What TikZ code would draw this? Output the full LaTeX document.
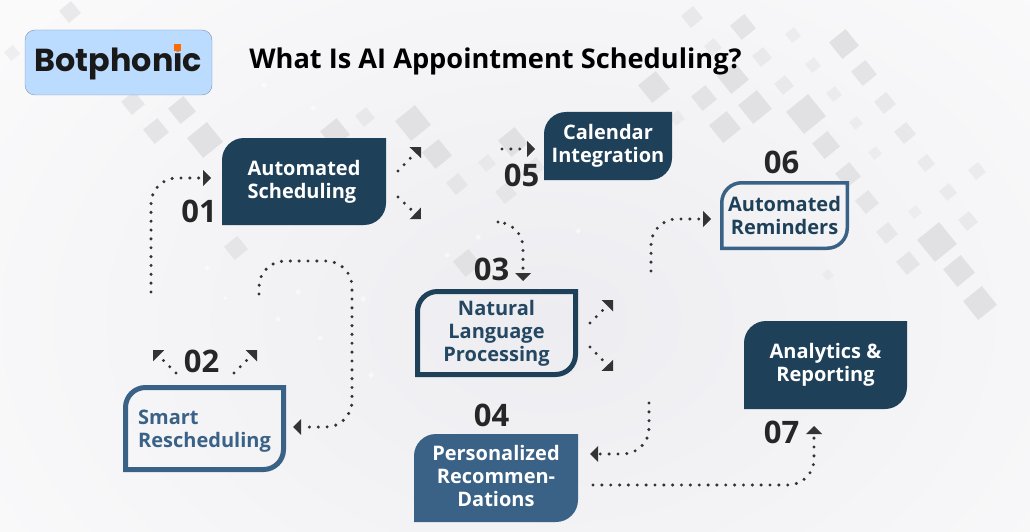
\documentclass[tikz,border=0pt]{standalone}
\usepackage{fontspec}
\setmainfont{Open Sans}
\newfontfamily\logofont{Poppins}
\usetikzlibrary{arrows.meta}
\definecolor{oscuro}{HTML}{1E4059}
\definecolor{medio}{HTML}{3A6186}
\definecolor{punto}{HTML}{333333}
\definecolor{cifra}{HTML}{262626}
\definecolor{rombo}{HTML}{DEDEE0}
\definecolor{fondo}{HTML}{EDEDF1}
\definecolor{claro}{HTML}{FAFAFB}
\definecolor{cielo}{HTML}{BBDBFF}
\definecolor{filete}{HTML}{7F93AE}
\definecolor{naranja}{HTML}{FF6A00}
\newcommand{\forma}[2]{
    ([xshift=#1,yshift=#1]path picture bounding box.south west)
    [rounded corners=#2] -- ([xshift=#1,yshift=-#1]path picture bounding box.north west)
    [sharp corners] -- ([xshift=-#1,yshift=-#1]path picture bounding box.north east)
    [rounded corners=#2] -- ([xshift=-#1,yshift=#1]path picture bounding box.south east)
    [sharp corners] -- ([xshift=#1,yshift=#1]path picture bounding box.south west) -- cycle}
\tikzset{
    caja/.style={rectangle, inner sep=0pt, align=center, font=\bfseries\fontsize{20}{23}\selectfont},
    relleno/.style={caja, text=white, path picture={\fill[#1] \forma{0pt}{22pt};}},
    borde/.style 2 args={caja, path picture={\draw[#1, line width=#2] \forma{#2/2}{20pt};}},
    numero/.style={font=\bfseries\fontsize{31}{31}\selectfont, text=cifra, inner sep=0pt},
    flecha/.style={line width=3.4pt, line cap=round, dash pattern=on 0pt off 8.85pt, draw=punto,
        -{Triangle[length=8pt, width=16pt, fill=punto, line width=0pt]}},
    curva/.style={flecha, rounded corners=26pt},
    conexion/.style={coordinate}}

\begin{document}
\begin{tikzpicture}[x=1pt, y=-1pt]
    \useasboundingbox (0,0) rectangle (1030,532);
    \clip (0,0) rectangle (1030,532);
    \shade[inner color=fondo, outer color=claro] (-130,-160) rectangle (1230,800);

    \foreach \x/\y/\d in {70/12/11, 12/53/8, 133/103/12, 182/110/14, 156/131/13, 205/140/18,
        413/123/18, 437/154/15, 335/133/15, 236/248/12, 365/117/10, 457/184/11, 513/142/15,
        506/193/11, 487/163/9, 467/263/14, 535/167/10, 692/17/11, 743/27/13, 713/47/9,
        762/57/10, 793/35/8, 844/44/15, 813/65/8, 864/73/13, 654/87/16, 733/78/16, 704/98/13,
        755/107/17, 725/127/16, 806/114/20, 784/85/10, 834/94/8, 885/103/11, 856/123/7,
        905/133/11, 826/145/14, 875/153/7, 926/163/9, 848/175/13, 977/171/9, 948/192/9,
        867/202/12, 915/212/7, 968/221/10, 887/233/11, 937/242/20, 908/263/12, 959/271/16,
        980/303/17, 828/275/6, 677/118/8}{
        \pgfmathsetmacro{\op}{min(0.85,0.022*\d*\d/7+0.2)}
        \fill[rombo, fill opacity=\op, shift={(\x,\y)}, rotate=-6] (-\d,0) -- (0,-\d) -- (\d,0) -- (0,\d) -- cycle;}
    \foreach \x/\y/\d in {207/268/3, 225/298/2, 298/292/3, 278/319/3, 363/299/3, 320/338/3,
        371/375/3, 478/237/3, 578/231/3, 447/255/3, 540/291/3, 264/85/3, 313/108/3}
        \fill[white, fill opacity=0.5] (\x-\d,\y) -- (\x,\y-\d) -- (\x+\d,\y) -- (\x,\y+\d) -- cycle;

    \node (logo) [draw=filete, fill=cielo, rounded corners=10pt,
        minimum width=187, minimum height=65, inner sep=0pt, text=black!90,
        font=\logofont\bfseries\fontsize{31.8}{31.8}\selectfont] at (118.5,62.5) {Botphonic};
    \node (marca) [fill=naranja, minimum size=7, inner sep=0pt] at (177,48) {};
    \node (titulo) [font=\bfseries\fontsize{27.2}{27.2}\selectfont, text=black] at (495.5,61.5) {What Is AI Appointment Scheduling?};

    \node (auto) [relleno=oscuro, minimum width=164, minimum height=87, align=left] at (304,181.5) {Automated\\Scheduling};
    \node (smart) [borde={medio}{5pt}, text=medio, minimum width=163, minimum height=87, align=left] at (204.5,428.5) {\rule{0pt}{20pt}Smart\\Rescheduling};
    \node (nlp) [borde={oscuro}{5pt}, text=oscuro!80!medio, minimum width=163, minimum height=88] at (496.5,333) {Natural\\Language\\Processing};
    \node (perso) [relleno=medio, minimum width=164, minimum height=88] at (496,478) {Personalized\\Recommen-\\Dations\rule[-5pt]{0pt}{0pt}};
    \node (calend) [relleno=oscuro, minimum width=128, minimum height=68] at (608,146) {Calendar\\Integration};
    \node (recor) [borde={medio}{3.5pt}, text=oscuro, minimum width=129, minimum height=69] at (784.5,215.5) {Automated\\Reminders};
    \node (analit) [relleno=oscuro, minimum width=163, minimum height=88] at (825.5,365) {Analytics \&\\Reporting};

    \node (n1) [numero] at (199,211.5) {01};
    \node (n2) [numero] at (201.5,361) {02};
    \node (n3) [numero] at (491.5,269) {03};
    \node (n4) [numero] at (491.5,415) {04};
    \node (n5) [numero] at (521.5,175) {05};
    \node (n6) [numero] at (781.5,162) {06};
    \node (n7) [numero] at (781.5,432) {07};

    \node (a1) [conexion] at (151,292) {};
    \node (b1) [conexion] at (211,178) {};
    \node (a2) [conexion] at (259,294) {};
    \node (c2) [conexion] at (352,261) {};
    \node (b2) [conexion] at (293,427) {};
    \node (a3) [conexion] at (176,373) {};
    \node (b3) [conexion] at (153,350) {};
    \node (a4) [conexion] at (234,373) {};
    \node (b4) [conexion] at (257,350) {};
    \node (a5) [conexion] at (398,171) {};
    \node (b5) [conexion] at (421,147) {};
    \node (a6) [conexion] at (398,197) {};
    \node (b6) [conexion] at (421,219) {};
    \node (a7) [conexion] at (502,149) {};
    \node (b7) [conexion] at (535,149) {};
    \node (a8) [conexion] at (498,222) {};
    \node (b8) [conexion] at (523,281) {};
    \node (a9) [conexion] at (651,271) {};
    \node (b9) [conexion] at (711,219) {};
    \node (a10) [conexion] at (590,323) {};
    \node (b10) [conexion] at (613,300) {};
    \node (a11) [conexion] at (590,347) {};
    \node (b11) [conexion] at (613,371) {};
    \node (a12) [conexion] at (649,403) {};
    \node (b12) [conexion] at (590,454) {};
    \node (a13) [conexion] at (593,485) {};
    \node (b13) [conexion] at (814,426) {};

    \draw[curva] (a1) |- (b1);
    \draw[curva] (a2) |- (c2) |- (b2);
    \draw[flecha] (a3) -- (b3);
    \draw[flecha] (a4) -- (b4);
    \draw[flecha] (a5) -- (b5);
    \draw[flecha] (a6) -- (b6);
    \draw[flecha] (a7) -- (b7);
    \draw[curva] (a8) -| (b8);
    \draw[curva] (a9) |- (b9);
    \draw[flecha] (a10) -- (b10);
    \draw[flecha] (a11) -- (b11);
    \draw[curva] (a12) |- (b12);
    \draw[curva] (a13) -| (b13);
\end{tikzpicture}
\end{document}
